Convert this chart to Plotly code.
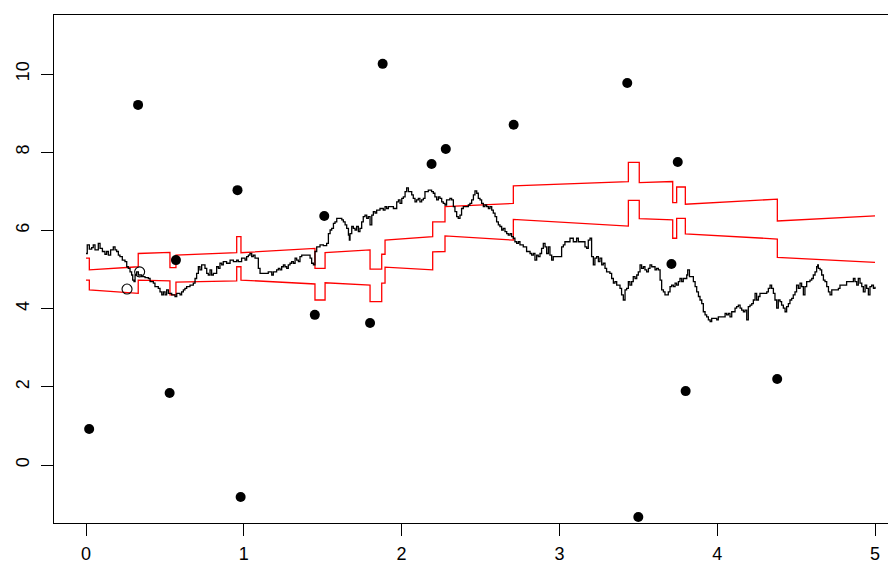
import plotly.graph_objects as go

# ---- observations (filled) ----
obs_t = [0.02, 0.33, 0.57, 0.53, 0.96, 0.98, 1.45, 1.51, 1.80, 1.88, 2.19, 2.28, 2.71,
         3.43, 3.50, 3.71, 3.75, 3.80, 4.38]
obs_y = [0.92, 9.21, 5.24, 1.84, 7.03, -0.82, 3.84, 6.37, 3.63, 10.26, 7.70, 8.08, 8.70,
         9.77, -1.33, 5.14, 7.75, 1.89, 2.20]

# ---- open circles ----
open_t = [0.26, 0.34]
open_y = [4.50, 4.94]

# ---- band (upper / lower red lines) ----
band_t = [0, 0.021, 0.021, 0.331, 0.331, 0.532, 0.532, 0.570, 0.570, 0.955, 0.955,
          0.982, 0.982, 1.451, 1.451, 1.515, 1.515, 1.800, 1.800, 1.874, 1.874,
          1.895, 1.895, 2.197, 2.197, 2.275, 2.275, 2.708, 2.708, 3.437, 3.437,
          3.506, 3.506, 3.718, 3.718, 3.743, 3.743, 3.798, 3.798, 4.381, 4.381, 5.0]
band_upper = [5.29, 5.29, 4.99, 5.07, 5.41, 5.44, 5.05, 5.05, 5.37, 5.43, 5.84,
              5.84, 5.43, 5.54, 5.03, 5.03, 5.43, 5.50, 5.01, 5.01, 5.39,
              5.39, 5.75, 5.84, 6.22, 6.22, 6.61, 6.69, 7.14, 7.25, 7.74,
              7.74, 7.22, 7.25, 6.71, 6.71, 7.11, 7.11, 6.67, 6.80, 6.24, 6.37]
band_lower = [4.73, 4.73, 4.48, 4.39, 4.73, 4.71, 4.35, 4.35, 4.68, 4.71, 5.07,
              5.07, 4.73, 4.63, 4.22, 4.22, 4.66, 4.60, 4.18, 4.18, 4.65,
              4.65, 5.06, 4.99, 5.45, 5.46, 5.86, 5.75, 6.28, 6.11, 6.77,
              6.77, 6.30, 6.27, 5.80, 5.80, 6.31, 6.31, 5.91, 5.78, 5.31, 5.18]

# ---- step process (black line) ----
step_t = [
    0.000, 0.008, 0.021, 0.036, 0.046, 0.057, 0.078, 0.089, 0.104, 0.120, 0.131, 0.142,
    0.156, 0.173, 0.184, 0.194, 0.205, 0.215, 0.230, 0.247, 0.258, 0.268, 0.279, 0.289,
    0.296, 0.304, 0.311, 0.321, 0.332, 0.353, 0.374, 0.395, 0.406, 0.427, 0.437, 0.458,
    0.469, 0.480, 0.490, 0.501, 0.511, 0.522, 0.543, 0.564, 0.575, 0.596, 0.606, 0.617,
    0.627, 0.638, 0.659, 0.680, 0.691, 0.701, 0.712, 0.722, 0.733, 0.754, 0.765, 0.775,
    0.786, 0.796, 0.807, 0.828, 0.839, 0.849, 0.860, 0.870, 0.891, 0.913, 0.934, 0.955,
    0.965, 0.986, 1.008, 1.018, 1.029, 1.039, 1.050, 1.060, 1.071, 1.082, 1.092, 1.103,
    1.134, 1.155, 1.177, 1.187, 1.208,
    1.219, 1.229, 1.240, 1.251, 1.261, 1.272, 1.282, 1.293, 1.303, 1.314, 1.325, 1.335,
    1.346, 1.356, 1.367, 1.399, 1.420, 1.430, 1.441, 1.451, 1.462, 1.483, 1.504, 1.525,
    1.536, 1.547, 1.557, 1.568, 1.578, 1.589, 1.610, 1.621, 1.631, 1.642, 1.652, 1.663,
    1.669, 1.673, 1.684, 1.694, 1.705, 1.715, 1.726, 1.736, 1.747, 1.757, 1.768, 1.779,
    1.789, 1.800, 1.811, 1.821, 1.832, 1.842, 1.863, 1.884, 1.895, 1.905, 1.916, 1.948,
    1.969, 1.980, 1.990, 2.001, 2.011, 2.022, 2.032, 2.043, 2.053, 2.064, 2.074, 2.085,
    2.095, 2.106, 2.116, 2.127, 2.138, 2.148, 2.169, 2.190, 2.201, 2.211, 2.222, 2.233,
    2.243, 2.254, 2.264, 2.275, 2.285, 2.306, 2.317, 2.328, 2.338, 2.349, 2.359, 2.370,
    2.380, 2.391,
    2.412, 2.423, 2.433, 2.444, 2.455, 2.465, 2.476, 2.486, 2.497, 2.507, 2.518, 2.528,
    2.539, 2.550, 2.560, 2.571, 2.581, 2.592, 2.602, 2.613, 2.623, 2.634, 2.644, 2.655,
    2.666, 2.676, 2.687, 2.697, 2.708, 2.718, 2.729, 2.740, 2.750, 2.771, 2.792, 2.814,
    2.824, 2.835, 2.845, 2.856, 2.866, 2.877, 2.887, 2.898, 2.909, 2.919, 2.930, 2.940,
    2.951, 2.961, 3.004, 3.014, 3.025, 3.035, 3.056, 3.067, 3.088, 3.109, 3.120, 3.141,
    3.162, 3.173, 3.183, 3.194, 3.204, 3.215, 3.225, 3.236, 3.247, 3.257, 3.268, 3.278,
    3.289, 3.299, 3.320, 3.331, 3.342, 3.352, 3.363, 3.384, 3.394, 3.405, 3.416, 3.426,
    3.437, 3.447, 3.458, 3.468, 3.479, 3.490, 3.500, 3.511, 3.521, 3.532, 3.542, 3.553,
    3.564, 3.574, 3.585, 3.606, 3.616,
    3.627, 3.638, 3.648, 3.659, 3.669, 3.680, 3.690, 3.701, 3.711, 3.722, 3.733, 3.743,
    3.754, 3.764, 3.775, 3.785, 3.807, 3.813, 3.824, 3.838, 3.849, 3.860, 3.870, 3.881,
    3.891, 3.902, 3.912, 3.923, 3.933, 3.944, 3.955, 3.965, 3.986, 3.997, 4.007, 4.029,
    4.050, 4.060, 4.071, 4.081, 4.092, 4.113, 4.123, 4.134, 4.145, 4.155, 4.166, 4.176,
    4.187, 4.197, 4.208, 4.219, 4.229, 4.240, 4.250, 4.261, 4.271, 4.293, 4.314, 4.324,
    4.335, 4.345, 4.356, 4.366, 4.377, 4.387, 4.398, 4.408, 4.419, 4.430, 4.440, 4.451,
    4.461, 4.472, 4.482, 4.493, 4.503, 4.514, 4.525, 4.535, 4.546, 4.556, 4.567, 4.588,
    4.599, 4.609, 4.620, 4.630, 4.637, 4.641, 4.652, 4.662, 4.673, 4.683, 4.694, 4.705,
    4.715, 4.726, 4.747, 4.768, 4.778, 4.810, 4.820, 4.842, 4.863, 4.873, 4.884, 4.894,
    4.905, 4.916, 4.926, 4.937, 4.947, 4.958, 4.968, 4.979, 4.990, 5.000]
step_y = [
    5.41, 5.63, 5.52, 5.56, 5.63, 5.50, 5.67, 5.54, 5.46, 5.39, 5.46, 5.37,
    5.50, 5.58, 5.50, 5.46, 5.37, 5.33, 5.24, 5.20, 5.07, 5.03, 4.94, 4.86,
    4.73, 4.69, 4.86, 4.94, 4.86, 4.82, 4.79, 4.77, 4.69, 4.65, 4.56, 4.52,
    4.43, 4.35, 4.43, 4.35, 4.48, 4.39, 4.35, 4.31, 4.39, 4.35, 4.43, 4.48,
    4.52, 4.56, 4.60, 4.65, 4.77, 4.90, 5.07, 4.99, 5.12, 5.03, 4.90, 4.86,
    4.99, 4.86, 4.90, 5.07, 5.03, 5.16, 5.12, 5.20, 5.16, 5.24, 5.20, 5.24,
    5.20, 5.29, 5.24, 5.33, 5.37, 5.41, 5.33, 5.37, 5.29, 5.29, 5.03, 4.90,
    4.90, 4.94, 4.86, 4.94, 4.99,
    5.03, 4.99, 5.07, 5.12, 5.07, 5.03, 5.12, 5.16, 5.20, 5.16, 5.29, 5.24,
    5.20, 5.33, 5.37, 5.37, 5.29, 5.16, 5.12, 5.46, 5.58, 5.63, 5.61, 5.67,
    5.92, 6.01, 6.05, 6.18, 6.22, 6.31, 6.31, 6.27, 6.22, 6.14, 6.05, 5.88,
    5.75, 5.92, 6.10, 6.05, 6.01, 6.10, 5.97, 6.05, 6.22, 6.35, 6.39, 6.31,
    6.35, 6.14, 6.39, 6.48, 6.44, 6.52, 6.56, 6.52, 6.61, 6.56, 6.61, 6.56,
    6.73, 6.78, 6.69, 6.82, 6.86, 6.99, 7.09, 6.99, 6.99, 6.91, 6.82, 6.73,
    6.78, 6.82, 6.73, 6.78, 6.82, 6.99, 7.03, 6.99, 6.95, 6.86, 6.78, 6.86,
    6.82, 6.73, 6.69, 6.65, 6.78, 6.82, 6.78, 6.61, 6.48, 6.35, 6.31, 6.39,
    6.56, 6.61,
    6.61, 6.65, 6.69, 6.78, 6.91, 7.01, 6.95, 6.82, 6.78, 6.69, 6.61, 6.65,
    6.61, 6.56, 6.61, 6.52, 6.44, 6.35, 6.22, 6.14, 6.10, 6.01, 6.05, 5.97,
    5.92, 5.88, 5.92, 5.84, 5.80, 5.71, 5.67, 5.71, 5.63, 5.58, 5.46, 5.41,
    5.37, 5.41, 5.24, 5.37, 5.33, 5.41, 5.54, 5.67, 5.58, 5.41, 5.58, 5.37,
    5.24, 5.33, 5.33, 5.58, 5.63, 5.71, 5.71, 5.80, 5.71, 5.80, 5.71, 5.71,
    5.58, 5.54, 5.75, 5.80, 5.33, 5.12, 5.29, 5.33, 5.20, 5.29, 5.12, 5.16,
    5.03, 4.94, 4.90, 4.77, 4.65, 4.69, 4.60, 4.52, 4.35, 4.22, 4.48, 4.52,
    4.69, 4.60, 4.69, 4.82, 4.77, 4.86, 4.94, 5.12, 5.03, 5.07, 4.99, 4.94,
    5.03, 5.12, 5.07, 4.99, 5.03,
    4.99, 4.73, 4.48, 4.43, 4.35, 4.35, 4.43, 4.56, 4.60, 4.56, 4.65, 4.60,
    4.69, 4.77, 4.69, 4.77, 4.86, 4.99, 4.82, 4.82, 4.69, 4.56, 4.43, 4.31,
    4.22, 4.13, 3.92, 3.84, 3.79, 3.71, 3.67, 3.75, 3.75, 3.71, 3.79, 3.79,
    3.88, 3.84, 3.88, 3.79, 3.92, 4.01, 4.05, 4.09, 4.01, 3.96, 3.92, 3.96,
    3.71, 4.05, 4.09, 4.13, 4.22, 4.39, 4.22, 4.31, 4.39, 4.39, 4.43, 4.52,
    4.60, 4.52, 4.39, 4.22, 4.01, 4.22, 4.18, 4.09, 4.01, 3.92, 4.05, 4.13,
    4.22, 4.26, 4.35, 4.43, 4.60, 4.52, 4.65, 4.56, 4.35, 4.56, 4.69, 4.73,
    4.77, 4.86, 4.94, 5.07, 5.12, 5.03, 4.99, 4.86, 4.73, 4.69, 4.56, 4.43,
    4.35, 4.48, 4.48, 4.52, 4.60, 4.60, 4.69, 4.69, 4.77, 4.69, 4.60, 4.77,
    4.65, 4.56, 4.43, 4.60, 4.52, 4.35, 4.56, 4.60, 4.52, 4.56]

x_ticks = [0, 1, 2, 3, 4, 5]
y_ticks = [0, 2, 4, 6, 8, 10]

fig = go.Figure()
fig.add_trace(go.Scatter(x=band_t, y=band_upper, mode="lines",
                         line=dict(color="#ff0000", width=1.3), hoverinfo="skip"))
fig.add_trace(go.Scatter(x=band_t, y=band_lower, mode="lines",
                         line=dict(color="#ff0000", width=1.3), hoverinfo="skip"))
fig.add_trace(go.Scatter(x=step_t, y=step_y, mode="lines",
                         line=dict(color="black", width=1.3, shape="hv")))
fig.add_trace(go.Scatter(x=open_t, y=open_y, mode="markers",
                         marker=dict(symbol="circle-open", size=10, color="black",
                                     line=dict(width=1.1, color="black"))))
fig.add_trace(go.Scatter(x=obs_t, y=obs_y, mode="markers",
                         marker=dict(symbol="circle", size=10, color="black")))

# page body adds an 8px offset; figure sized so the plot box sits at 54..896 x 15..523
font = dict(family="Liberation Sans, Arial, Helvetica, sans-serif", size=18, color="black")
fig.update_layout(
    width=888, height=557,
    margin=dict(l=46, r=0, t=7, b=42, autoexpand=False),
    paper_bgcolor="white", plot_bgcolor="white",
    showlegend=False, font=font,
    xaxis=dict(range=[-0.2028, 5.133], tickvals=x_ticks, ticks="outside", ticklen=12,
               tickwidth=1, tickcolor="black", showline=True, linecolor="black",
               linewidth=1, mirror=True, showgrid=False, zeroline=False,
               automargin=False, ticklabelstandoff=2),
    yaxis=dict(range=[-1.483, 11.509], tickvals=y_ticks, ticks="outside", ticklen=12,
               tickwidth=1, tickcolor="black", showline=True, linecolor="black",
               linewidth=1, showgrid=False, zeroline=False, tickangle=-90,
               automargin=False, ticklabelstandoff=5),
)
fig.write_html("out.html")
